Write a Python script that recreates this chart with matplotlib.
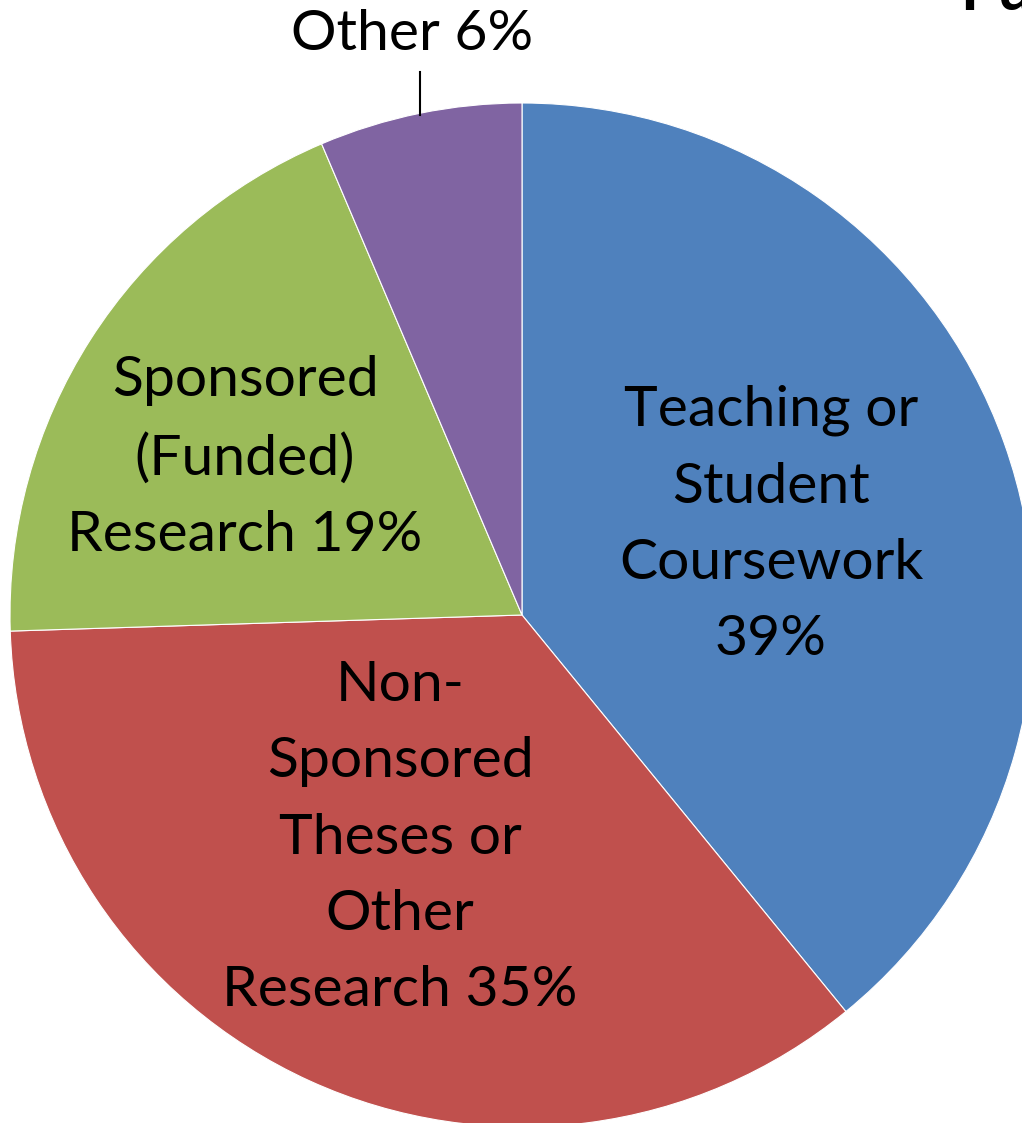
import matplotlib.pyplot as plt

# slice data, clockwise from 12 o'clock
labels = ["Teaching or\nStudent\nCoursework\n39%",
          "Non-\nSponsored\nTheses or\nOther\nResearch 35%",
          "Sponsored\n(Funded)\nResearch 19%",
          "Other 6%"]
shares = [39.1, 35.4, 19.1, 6.4]
colors = ["#4F81BD", "#C0504D", "#9BBB59", "#8064A2"]

W, H = 1022, 1123
fig = plt.figure(figsize=(W / 100, H / 100), dpi=100)
ax = fig.add_axes([0, 0, 1, 1])
ax.set_xlim(0, W)
ax.set_ylim(0, H)
ax.set_aspect("equal")
ax.axis("off")

cx, cy, r = 522, H - 615, 512
ax.pie(shares, colors=colors, startangle=90, counterclock=False,
       center=(cx, cy), radius=r,
       wedgeprops=dict(edgecolor="white", linewidth=0.8))
ax.set_xlim(0, W)
ax.set_ylim(0, H)

font = dict(family=["Lato", "DejaVu Sans"], fontsize=41, ha="center",
            va="center", linespacing=1.62, color="black")
# label positions (pixel coords from top-left)
pos = [(771, 525), (400, 838), (245, 458), (412, 35)]
for lab, (x, y) in zip(labels, pos):
    ax.text(x, H - y, lab, **font)

# leader line for Other
ax.plot([420, 420], [H - 72, H - 115], color="black", lw=1.5)

# cut-off title in the corner
ax.text(960, H - 10, "Pu", family=["Lato", "DejaVu Sans"], fontsize=44,
        fontweight="bold", ha="left", va="baseline", clip_on=False)

fig.savefig("out.png", dpi=100)
